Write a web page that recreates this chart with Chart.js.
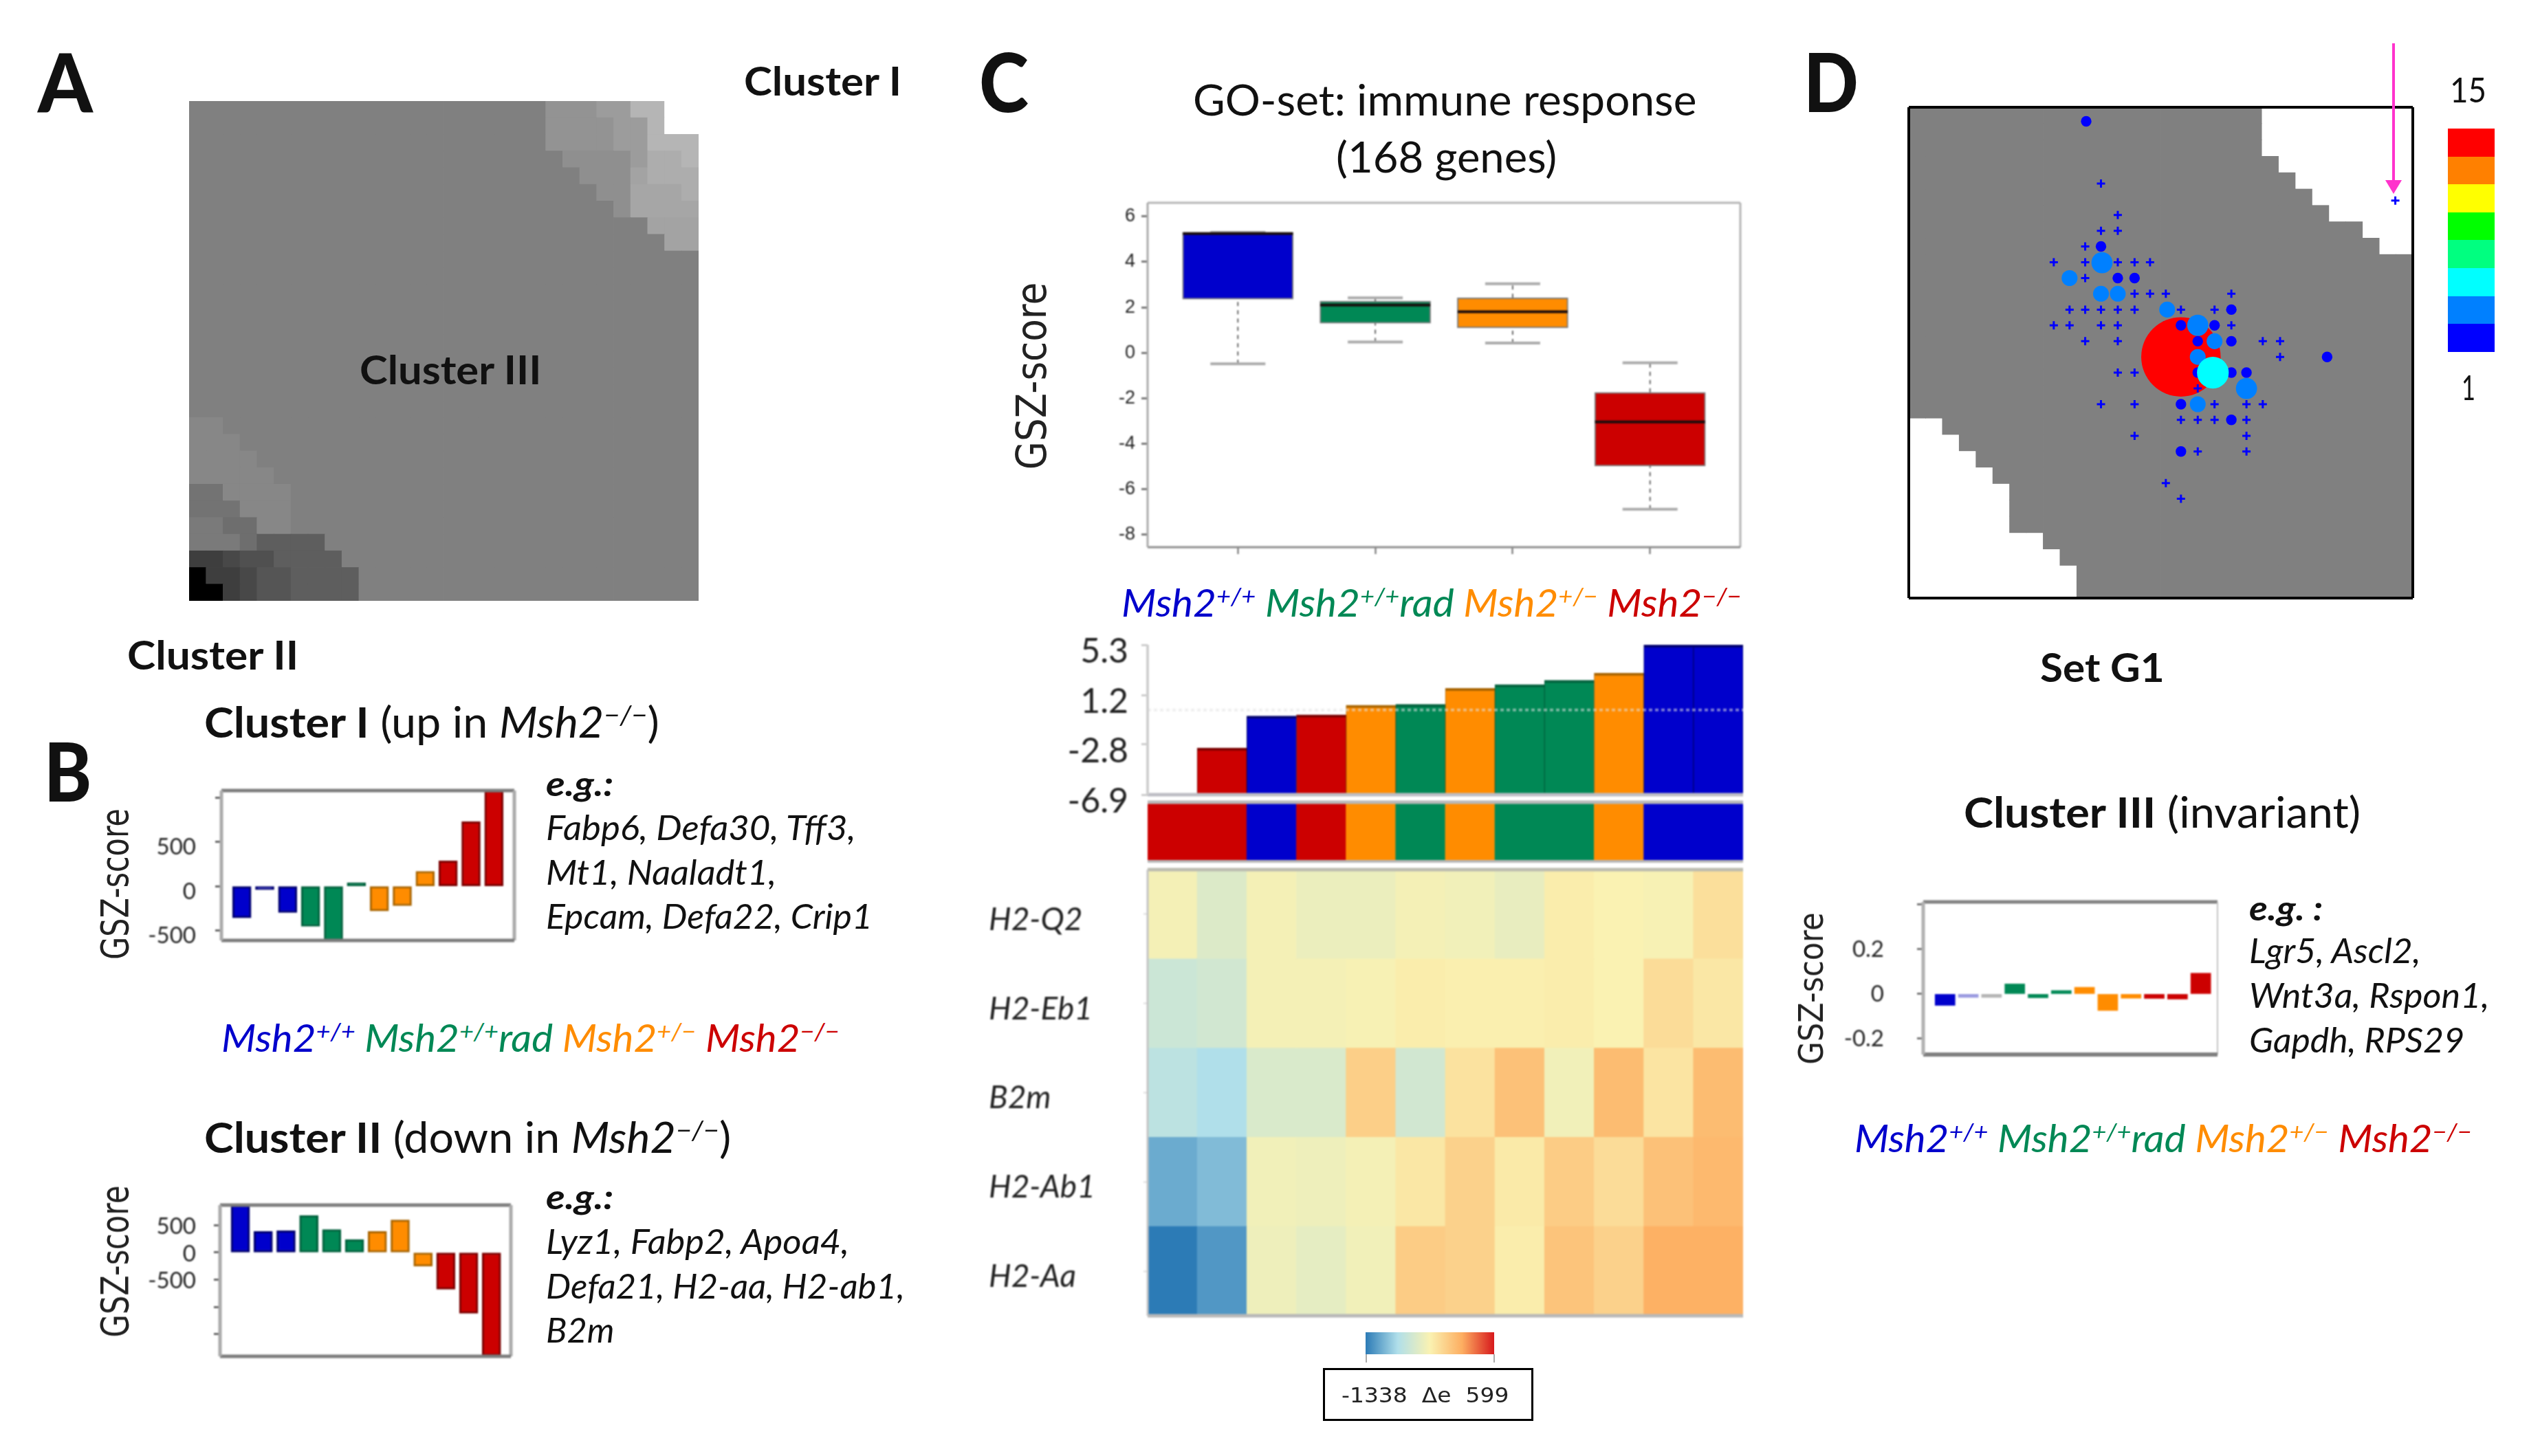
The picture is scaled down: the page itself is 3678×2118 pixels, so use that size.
<!DOCTYPE html>
<html>
<head>
<meta charset="utf-8">
<title>Msh2 SOM portraits</title>
<script src="https://cdn.jsdelivr.net/npm/chart.js@4"></script>
<style>
  html, body { margin: 0; background: #fff; }
  #page { position: relative; width: 3678px; height: 2118px; overflow: hidden; font-family: Lato, sans-serif; color: #111; }
  #page canvas { position: absolute; }
  .soft { filter: blur(0.9px); }
  .t { position: absolute; white-space: nowrap; line-height: 1.2; transform-origin: 0 50%; }
  .t sup { font-size: 0.62em; line-height: 0; vertical-align: 0.5em; }
  .r { position: absolute; white-space: nowrap; line-height: 1; font-family: "DejaVu Sans", sans-serif; color: #222; }
  .swatch { position: absolute; }
</style>
</head>
<body>
<div id="page"></div>
<script>
// sample groups
const WT = 'wt', RAD = 'rad', HET = 'het', KO = 'ko';
const groupFill = { wt: '#0000cc', rad: '#008855', het: '#ff8c00', ko: '#cc0000' };
const groupEdge = { wt: '#00006e', rad: '#00603c', het: '#a86400', ko: '#7a0000' };

// panel A: SOM portrait, 30x30 metagenes, each row as count,level,count,level...
const somRuns = [
  [21,128, 3,147, 2,156, 2,181, 2,255],
  [21,128, 4,147, 2,156, 1,181, 2,255],
  [21,128, 4,147, 2,156, 3,181],
  [22,128, 4,143, 1,156, 2,173, 1,181],
  [23,128, 3,143, 1,163, 3,173],
  [24,128, 2,143, 3,166, 1,173],
  [25,128, 1,143, 4,166],
  [27,128, 3,163],
  [28,128, 2,163],
  [30,128], [30,128], [30,128], [30,128], [30,128],
  [30,128], [30,128], [30,128], [30,128], [30,128],
  [2,135, 28,128],
  [3,135, 27,128],
  [4,135, 26,128],
  [5,135, 25,128],
  [2,115, 4,135, 24,128],
  [3,115, 3,135, 24,128],
  [2,122, 2,110, 2,135, 24,128],
  [3,122, 1,110, 4,94, 22,128],
  [2,62, 1,72, 2,80, 4,94, 21,128],
  [1,0, 2,62, 1,72, 2,85, 4,94, 20,128],
  [2,0, 1,62, 1,72, 2,85, 4,94, 20,128]
];
const SOM_BACKGROUND = 128;

// panel B: cluster profiles
const profileGroups = [WT, WT, WT, RAD, RAD, RAD, HET, HET, HET, KO, KO, KO];
const clusterIScores = [-357, -39, -298, -453, -612, 39, -280, -220, 168, 285, 730, 1080];
const clusterIIScores = [873, 388, 400, 683, 422, 240, 388, 600, -253, -675, -1118, -1900];
const clusterITicks = [1000, 500, 0, -500];
const clusterITickLabels = ['', '500', '0', '-500'];
const clusterIITicks = [500, 0, -500, -1000, -1500];
const clusterIITickLabels = ['500', '0', '-500', '', ''];

// panel C: boxplot
const boxLow = [-0.48, 0.48, 0.43, -6.88];
const boxQ1 = [2.36, 1.3, 1.1, -4.98];
const boxMedian = [5.25, 2.1, 1.81, -3.04];
const boxQ3 = [5.3, 2.27, 2.42, -1.74];
const boxHigh = [5.3, 2.42, 3.04, -0.44];
const boxGroups = [WT, RAD, HET, KO];
const boxTicks = [6, 4, 2, 0, -2, -4, -6, -8];

// panel C: per sample GSZ bars, sample strip and heatmap
const sampleGroups = [KO, KO, WT, KO, HET, RAD, HET, RAD, RAD, HET, WT, WT];
const sampleScores = [-6.9, -3.1, -0.49, -0.4, 0.39, 0.45, 1.75, 2.07, 2.41, 3.0, 5.3, 5.3];
const sampleTicks = [5.3, 1.2, -2.8, -6.9];
const geneNames = ['H2-Q2', 'H2-Eb1', 'B2m', 'H2-Ab1', 'H2-Aa'];
const geneH2Q2 = [-408, -563, -408, -466, -466, -408, -428, -486, -331, -370, -389, -234];
const geneH2Eb1 = [-679, -641, -408, -408, -389, -331, -350, -350, -331, -370, -215, -292];
const geneB2m = [-776, -854, -583, -583, -118, -641, -253, -21, -428, 18, -273, 18];
const geneH2Ab1 = [-1106, -1028, -428, -447, -408, -292, -137, -311, -98, -215, -21, 37];
const geneH2Aa = [-1338, -1202, -447, -505, -428, -98, -137, -331, -40, -137, 95, 95];
const deltaMin = -1338, deltaMax = 599;
const heatStops = ['#2c7bb6', '#b0dfea', '#faf2b2', '#fdae61', '#d7191c'];

// panel D: set G1 genes per metagene
const g1X = [15.2, 16.2,
  11.44, 12.44, 11.44, 12.44, 10.5, 11.44,
  8.63, 10.5, 11.5, 12.44, 13.44, 14.36,
  9.57, 10.5, 12.44, 13.44,
  11.44, 12.44, 13.44, 14.36, 15.3, 19.2,
  9.57, 10.5, 11.44, 12.44, 13.44, 15.38, 16.2, 18.2, 19.2,
  8.63, 9.57, 11.44, 12.44, 16.2, 17.2, 18.2, 19.2,
  10.5, 12.44, 17.2, 18.2, 19.2, 21.07, 22.1,
  17.2, 22.1, 24.9,
  12.44, 13.44, 17.2, 19.2, 20.1, 18.1,
  17.2, 20.1,
  11.44, 13.44, 16.2, 17.2, 18.2, 20.1, 21.07,
  16.2, 17.2, 18.2, 19.2, 20.1,
  13.44, 20.1,
  16.2, 17.2, 20.1,
  15.3, 16.2, 10.56, 28.96];
const g1Y = [13.33, 15.26,
  4.66, 6.59, 7.55, 7.55, 8.51, 8.51,
  9.48, 9.48, 9.5, 9.48, 9.48, 9.48,
  10.44, 10.44, 10.44, 10.44,
  11.4, 11.4, 11.4, 11.4, 11.4, 11.4,
  12.37, 12.37, 12.37, 12.37, 12.37, 12.37, 12.37, 12.37, 12.37,
  13.33, 13.33, 13.33, 13.33, 13.33, 13.33, 13.33, 13.33,
  14.3, 14.3, 14.3, 14.3, 14.3, 14.3, 14.3,
  15.26, 15.26, 15.26,
  16.22, 16.22, 16.22, 16.22, 16.22, 16.22,
  17.19, 17.19,
  18.15, 18.15, 18.15, 18.15, 18.15, 18.15, 18.15,
  19.11, 19.11, 19.11, 19.11, 19.11,
  20.08, 20.08,
  21.04, 21.04, 21.04,
  22.97, 23.93, 0.86, 5.7];
const g1Count = [1, 15,
  1, 1, 1, 1, 1, 2,
  1, 1, 4, 1, 1, 1,
  3, 1, 2, 2,
  3, 3, 1, 1, 1, 1,
  1, 1, 1, 1, 1, 3, 1, 1, 2,
  1, 1, 1, 1, 2, 4, 2, 1,
  1, 1, 2, 3, 2, 1, 1,
  3, 1, 2,
  1, 1, 2, 2, 2, 6,
  1, 4,
  1, 1, 2, 3, 1, 1, 1,
  1, 1, 1, 2, 1,
  1, 1,
  2, 1, 1,
  1, 1, 2, 1];
const countBands = ['#0000ff', '#0080ff', '#00ffff', '#00ff80', '#00ff00', '#ffff00', '#ff8000', '#ff0000'];

// panel D: cluster III profile
const clusterIIIScores = [-0.051, -0.003, -0.003, 0.045, -0.017, 0.01, 0.03, -0.074, -0.019, -0.02, -0.023, 0.093];
const clusterIIITicks = [0.4, 0.2, 0, -0.2];
const clusterIIITickLabels = ['', '0.2', '0', '-0.2'];

const page = document.getElementById('page');

Chart.defaults.animation = false;
Chart.defaults.responsive = false;
Chart.defaults.devicePixelRatio = 1;
Chart.defaults.plugins.legend.display = false;
Chart.defaults.plugins.tooltip.enabled = false;
Chart.defaults.font.family = 'Lato';

// draws the plot frame, each side has its own colour and width
Chart.register({
  id: 'frame',
  afterDatasetsDraw(chart, args, opts) {
    const a = chart.chartArea, ctx = chart.ctx;
    const lines = {
      top: [a.left, a.top, a.right, a.top],
      right: [a.right, a.top, a.right, a.bottom],
      bottom: [a.left, a.bottom, a.right, a.bottom],
      left: [a.left, a.top, a.left, a.bottom]
    };
    ctx.save();
    Object.keys(lines).forEach(side => {
      if (!opts[side]) return;
      const l = lines[side];
      ctx.strokeStyle = opts[side][0];
      ctx.lineWidth = opts[side][1];
      ctx.beginPath();
      ctx.moveTo(l[0], l[1]);
      ctx.lineTo(l[2], l[3]);
      ctx.stroke();
    });
    ctx.restore();
  }
});

function addChart(box, config, opt = {}) {
  const pad = 100; // roomy, tick label margins eat into this
  const labelW = opt.labelW || 0;
  const bottomH = opt.bottomH || 0;
  const leftPad = labelW ? 0 : pad;
  const canvas = document.createElement('canvas');
  canvas.width = labelW + leftPad + box.w + pad;
  canvas.height = pad + box.h + bottomH + pad;
  canvas.style.left = (box.x - labelW - leftPad) + 'px';
  canvas.style.top = (box.y - pad) + 'px';
  if (opt.soft) canvas.className = 'soft';
  page.appendChild(canvas);
  config.options.layout = { autoPadding: false, padding: { left: leftPad, top: pad, right: pad, bottom: pad } };
  return new Chart(canvas, config);
}

function hiddenX(min, max) {
  return { type: 'linear', display: false, min, max, offset: false, grid: { offset: false } };
}

function hiddenY(min, max, reverse) {
  return { type: 'linear', display: false, min, max, reverse: !!reverse };
}

function tickedY(min, max, values, labels, width, font, padding, tickColor, labelOffset = 0) {
  return {
    type: 'linear', min, max,
    border: { display: false },
    grid: { drawOnChartArea: false, tickLength: 9, tickWidth: 3, tickColor },
    ticks: { autoSkip: false, padding, labelOffset, font, color: '#222', callback: (v, i) => labels[i] },
    afterBuildTicks(scale) { scale.ticks = values.map(value => ({ value })); },
    afterFit(scale) { scale.width = width; }
  };
}

function hex(c) {
  return [1, 3, 5].map(i => parseInt(c.substr(i, 2), 16));
}

function heatColor(v) {
  const t = (v - deltaMin) / (deltaMax - deltaMin) * (heatStops.length - 1);
  const i = Math.min(Math.floor(t), heatStops.length - 2);
  const a = hex(heatStops[i]), b = hex(heatStops[i + 1]);
  const c = a.map((p, k) => Math.round(p + (b[k] - p) * (t - i)));
  return 'rgb(' + c.join(',') + ')';
}

// text helpers, width makes the glyphs fit the reference width
function addText(html, x, cy, size, width, css = '') {
  const el = document.createElement('div');
  el.className = 't';
  el.style.cssText = 'left:' + (x - 3) + 'px;top:' + (cy - 3) + 'px;font-size:' + size + 'px;' + css;
  el.innerHTML = html;
  page.appendChild(el);
  const w = el.offsetWidth;
  el.style.transform = 'translateY(-50%) scaleX(' + (width / w) + ')';
  return el;
}

function addRotated(text, cx, cy, size, length) {
  const el = document.createElement('div');
  el.className = 'r';
  el.style.cssText = 'left:' + cx + 'px;top:' + cy + 'px;font-size:' + size + 'px;';
  el.textContent = text;
  page.appendChild(el);
  const w = el.offsetWidth;
  el.style.transform = 'translate(-50%,-50%) rotate(-90deg) scaleX(' + (length / w) + ')';
}

const LEGEND = '<i><span style="color:#0000cc">Msh2<sup>+/+</sup></span> ' +
  '<span style="color:#008855">Msh2<sup>+/+</sup>rad</span> ' +
  '<span style="color:#ff8c00">Msh2<sup>+/\u2212</sup></span> ' +
  '<span style="color:#cc0000">Msh2<sup>\u2212/\u2212</sup></span></i>';
const KO_ITALIC = '<i>Msh2<sup>\u2212/\u2212</sup></i>';
const PANEL_LETTER = 'font-weight:900';

// ---- panel A ----
const somCells = [], somColors = [];
const somLevels = somRuns.map(run => {
  const row = [];
  for (let i = 0; i < run.length; i += 2) {
    for (let n = 0; n < run[i]; n++) row.push(run[i + 1]);
  }
  return row;
});
somLevels.forEach((row, r) => row.forEach((level, c) => {
  somCells.push({ x: c + 0.5, y: [r, r + 1] });
  somColors.push('rgb(' + level + ',' + level + ',' + level + ')');
}));

const boxA = { x: 275, y: 147, w: 741, h: 727 };
addChart(boxA, {
  type: 'bar',
  data: { datasets: [{ data: somCells, backgroundColor: somColors, barThickness: boxA.w / 30, inflateAmount: 0.4, borderWidth: 0 }] },
  options: { scales: { x: hiddenX(0, 30), y: hiddenY(0, 30, true) } }
});

addText('A', 58, 121, 118, 80, PANEL_LETTER);
addText('Cluster I', 1085, 120, 58, 229, 'font-weight:700');
addText('Cluster III', 526, 540, 58, 264, 'font-weight:700');
addText('Cluster II', 188, 955, 58, 249, 'font-weight:700');

// ---- panel B ----
function profileChart(box, scores, colors, groups, xMin, xMax, thick, yMin, yMax, values, labels, width, padding, frame, labelOffset) {
  addChart(box, {
    type: 'bar',
    data: {
      datasets: [{
        data: scores.map((v, i) => ({ x: i, y: v })),
        backgroundColor: colors,
        borderColor: groups.map(g => groupEdge[g]),
        borderWidth: 3,
        borderSkipped: false,
        barThickness: thick,
        minBarLength: 4
      }]
    },
    options: {
      scales: {
        x: hiddenX(xMin, xMax),
        y: tickedY(yMin, yMax, values, labels, width, { family: 'Lato', size: 33 }, padding, '#666', labelOffset)
      },
      plugins: { frame }
    }
  }, { labelW: width, soft: true });
}

const softFrame = { top: ['#7c7c7c', 5], bottom: ['#7c7c7c', 5], left: ['#aaaaaa', 5], right: ['#aaaaaa', 5] };
const profileColors = profileGroups.map(g => groupFill[g]);
profileChart({ x: 322, y: 1150, w: 426, h: 218 }, clusterIScores, profileColors, profileGroups, -0.89, 11.89, 27,
  -612, 1080, clusterITicks, clusterITickLabels, 120, 28, softFrame, 8);
profileChart({ x: 320, y: 1753, w: 423, h: 220 }, clusterIIScores, profileColors, profileGroups, -0.89, 11.85, 27,
  -1911, 873, clusterIITicks, clusterIITickLabels, 120, 26, softFrame, 2);

addText('B', 67, 1124, 118, 69, PANEL_LETTER);
addText('<b>Cluster I</b> (up in ' + KO_ITALIC + ')', 300, 1052, 62, 662);
addText('<b>Cluster II</b> (down in ' + KO_ITALIC + ')', 300, 1656, 62, 766);
addRotated('GSZ-score', 167, 1286, 56, 220);
addRotated('GSZ-score', 167, 1835, 56, 221);
addText('<b><i>e.g.:</i></b>', 797, 1142, 50, 98);
addText('<i>Fabp6, Defa30, Tff3,</i>', 797, 1206, 50, 450);
addText('<i>Mt1, Naaladt1,</i>', 797, 1271, 50, 335);
addText('<i>Epcam, Defa22, Crip1</i>', 797, 1335, 50, 475);
addText(LEGEND, 325, 1512, 56, 899);
addText('<b><i>e.g.:</i></b>', 797, 1743, 50, 98);
addText('<i>Lyz1, Fabp2, Apoa4,</i>', 797, 1808, 50, 441);
addText('<i>Defa21, H2-aa, H2-ab1,</i>', 797, 1873, 50, 522);
addText('<i>B2m</i>', 797, 1937, 50, 99);

// ---- panel C boxplot ----
const whiskerPoints = [];
boxGroups.forEach((g, i) => {
  whiskerPoints.push({ x: i, y: boxLow[i] }, { x: i, y: boxQ1[i] }, { x: i, y: null });
  whiskerPoints.push({ x: i, y: boxQ3[i] }, { x: i, y: boxHigh[i] }, { x: i, y: null });
});
const capPoints = [];
boxGroups.forEach((g, i) => capPoints.push({ x: i, y: boxLow[i] }, { x: i, y: boxHigh[i] }));

addChart({ x: 1669, y: 295, w: 862, h: 501 }, {
  type: 'bar',
  data: {
    datasets: [
      { type: 'line', data: whiskerPoints, order: 4, borderColor: '#666', borderWidth: 2, borderDash: [6, 6], pointRadius: 0, spanGaps: false },
      { type: 'scatter', data: capPoints, order: 3, pointStyle: 'line', pointRadius: 40, pointBorderColor: '#aaa', pointBorderWidth: 4 },
      {
        data: boxGroups.map((g, i) => ({ x: i, y: [boxQ1[i], boxQ3[i]] })),
        order: 2,
        backgroundColor: boxGroups.map(g => groupFill[g]),
        borderColor: '#777',
        borderWidth: 2,
        borderSkipped: false,
        barThickness: 161
      },
      { type: 'scatter', data: boxMedian.map((v, i) => ({ x: i, y: v })), order: 1, pointStyle: 'line', pointRadius: 80, pointBorderColor: '#1a0d0d', pointBorderWidth: 4 }
    ]
  },
  options: {
    scales: {
      x: {
        type: 'linear', min: -0.657, max: 3.657, offset: false,
        border: { display: false },
        grid: { offset: false, drawOnChartArea: false, tickLength: 10, tickWidth: 2, tickColor: '#666' },
        ticks: { display: false },
        afterBuildTicks(scale) { scale.ticks = boxGroups.map((g, i) => ({ value: i })); },
        afterFit(scale) { scale.height = 14; }
      },
      y: tickedY(-8.55, 6.6, boxTicks, boxTicks.map(String), 110, { family: 'Liberation Sans', size: 27 }, 9, '#777')
    },
    plugins: { frame: { top: ['#b4b4b4', 3], right: ['#b4b4b4', 3], left: ['#aaaaaa', 3], bottom: ['#8c8c8c', 3] } }
  }
}, { labelW: 110, bottomH: 14, soft: true });

addText('C', 1427, 121, 118, 72, PANEL_LETTER);
addText('GO-set: immune response', 1738, 147, 62, 733);
addText('(168 genes)', 1946, 230, 62, 321);
addRotated('GSZ-score', 1500, 547, 60, 273);
addText(LEGEND, 1634, 879, 56, 902);

// ---- panel C sample bars ----
const sampleBox = { x: 1669, y: 938, w: 866, h: 218 };
const sampleThick = sampleBox.w / sampleGroups.length;
addChart(sampleBox, {
  type: 'bar',
  data: {
    datasets: [
      { type: 'line', data: [{ x: -0.5, y: 0 }, { x: 11.5, y: 0 }], order: 1, borderColor: 'rgba(225,225,225,0.55)', borderWidth: 4, borderDash: [5, 4], pointRadius: 0 },
      {
        data: sampleScores.map((v, i) => ({ x: i, y: v })),
        order: 2,
        base: -6.9,
        backgroundColor: sampleGroups.map(g => groupFill[g]),
        borderColor: sampleGroups.map(g => groupEdge[g]),
        borderWidth: { top: 4, left: 1, right: 1, bottom: 0 },
        borderSkipped: false,
        barThickness: sampleThick
      }
    ]
  },
  options: {
    scales: {
      x: hiddenX(-0.5, 11.5),
      y: tickedY(-6.9, 5.3, sampleTicks, sampleTicks.map(v => v.toFixed(1)), 231, { family: 'Lato', size: 50 }, 19, '#ccc', 10)
    },
    plugins: { frame: { left: ['#cfcfcf', 4], bottom: ['#bdbdc4', 5] } }
  }
}, { labelW: 231, soft: true });

// ---- panel C sample strip ----
addChart({ x: 1669, y: 1167, w: 866, h: 86 }, {
  type: 'bar',
  data: {
    datasets: [{
      data: sampleGroups.map((g, i) => ({ x: i, y: [0, 1] })),
      backgroundColor: sampleGroups.map(g => groupFill[g]),
      borderWidth: 0,
      barThickness: sampleThick,
      inflateAmount: 0.4
    }]
  },
  options: {
    scales: { x: hiddenX(-0.5, 11.5), y: hiddenY(0, 1) },
    plugins: { frame: { top: ['#b8b8b8', 5], bottom: ['#b8b8b8', 4] } }
  }
}, { soft: true });

// ---- panel C heatmap ----
const geneRows = [geneH2Q2, geneH2Eb1, geneB2m, geneH2Ab1, geneH2Aa];
const heatCells = [], heatColors = [];
geneRows.forEach((row, r) => row.forEach((v, c) => {
  heatCells.push({ x: c, y: [r, r + 1] });
  heatColors.push(heatColor(v));
}));
addChart({ x: 1669, y: 1265, w: 866, h: 649 }, {
  type: 'bar',
  data: { datasets: [{ data: heatCells, backgroundColor: heatColors, borderWidth: 0, barThickness: sampleThick, inflateAmount: 0.4 }] },
  options: {
    scales: {
      x: hiddenX(-0.5, 11.5),
      y: {
        type: 'linear', min: 0, max: 5, reverse: true,
        border: { display: false },
        grid: { drawOnChartArea: false, tickLength: 6, tickWidth: 2, tickColor: '#ddd' },
        ticks: {
          autoSkip: false, crossAlign: 'far', color: '#222', labelOffset: 8,
          font: { family: 'Lato', size: 46, style: 'italic' },
          callback: (v, i) => geneNames[i]
        },
        afterBuildTicks(scale) { scale.ticks = geneNames.map((g, i) => ({ value: i + 0.5 })); },
        afterFit(scale) { scale.width = 231; }
      }
    },
    plugins: { frame: { top: ['#bcbcb0', 5], bottom: ['#b8b8b8', 5], left: ['#c4c4c4', 3] } }
  }
}, { labelW: 231, soft: true });

// heat colour key
const key = document.createElement('div');
key.className = 'swatch';
key.style.cssText = 'left:1986px;top:1938px;width:187px;height:32px;background:linear-gradient(to right,' + heatStops.join(',') + ');';
page.appendChild(key);
[1986, 2172].forEach(x => {
  const tick = document.createElement('div');
  tick.className = 'swatch';
  tick.style.cssText = 'left:' + x + 'px;top:1970px;width:2px;height:12px;background:#aaa;';
  page.appendChild(tick);
});
const keyBox = document.createElement('div');
keyBox.className = 'swatch';
keyBox.style.cssText = 'left:1924px;top:1990px;width:300px;height:71px;border:3px solid #000;';
page.appendChild(keyBox);
addText(deltaMin + '&nbsp;&nbsp;\u0394e&nbsp;&nbsp;' + deltaMax, 1954, 2033, 30, 244, 'font-family:"DejaVu Sans";color:#222');

// ---- panel D portrait ----
const maskCells = [];
somLevels.forEach((row, r) => row.forEach((level, c) => {
  if (level === SOM_BACKGROUND) maskCells.push({ x: c + 0.5, y: [r, r + 1] });
}));
const boxD = { x: 2776, y: 156, w: 733, h: 714 };
addChart(boxD, {
  type: 'bar',
  data: {
    datasets: [
      { data: maskCells, order: 2, backgroundColor: '#808080', borderWidth: 0, barThickness: boxD.w / 30, inflateAmount: 0.4 },
      {
        type: 'bubble',
        order: 1,
        data: g1X.map((x, i) => ({ x, y: g1Y[i], r: g1Count[i] === 1 ? 6 : g1Count[i] * 3.85 })),
        backgroundColor: ctx => countBands[Math.floor((g1Count[ctx.dataIndex] - 1) / 2)],
        borderColor: ctx => countBands[Math.floor((g1Count[ctx.dataIndex] - 1) / 2)],
        borderWidth: ctx => g1Count[ctx.dataIndex] === 1 ? 3 : 0,
        pointStyle: ctx => g1Count[ctx.dataIndex] === 1 ? 'cross' : 'circle'
      }
    ]
  },
  options: {
    scales: { x: hiddenX(0, 30), y: hiddenY(0, 30, true) },
    plugins: { frame: { top: ['#000', 4], right: ['#000', 4], bottom: ['#000', 4], left: ['#000', 4] } }
  }
});

// pointer to the lone metagene
page.insertAdjacentHTML('beforeend',
  '<svg style="position:absolute;left:3456px;top:55px" width="50" height="235">' +
  '<line x1="25" y1="8" x2="25" y2="215" stroke="#ff33cc" stroke-width="4"/>' +
  '<polygon points="13,207 37,207 25,227" fill="#ff33cc"/></svg>');

// count legend, top band is the highest count
countBands.slice().reverse().forEach((color, i) => {
  const band = document.createElement('div');
  band.className = 'swatch';
  band.style.cssText = 'left:3560px;top:' + (187 + i * 40.6) + 'px;width:68px;height:41px;background:' + color + ';';
  page.appendChild(band);
});
addText('15', 3566, 133, 50, 53);
addText('1', 3583, 566, 50, 20);
addText('D', 2626, 121, 118, 80, PANEL_LETTER);
addText('Set G1', 2970, 973, 58, 181, 'font-weight:700');

// ---- panel D cluster III profile ----
const clusterIIIColors = profileGroups.map(g => groupFill[g]);
clusterIIIColors[1] = '#9a9ae0';
clusterIIIColors[2] = '#b5b5b5';
addChart({ x: 2797, y: 1312, w: 428, h: 222 }, {
  type: 'bar',
  data: {
    datasets: [{
      data: clusterIIIScores.map((v, i) => ({ x: i, y: v })),
      backgroundColor: clusterIIIColors,
      borderWidth: 0,
      barThickness: 29,
      minBarLength: 5
    }]
  },
  options: {
    scales: {
      x: hiddenX(-0.94, 11.72),
      y: tickedY(-0.271, 0.412, clusterIIITicks, clusterIIITickLabels, 120, { family: 'Lato', size: 33 }, 48, '#777')
    },
    plugins: { frame: { top: ['#808080', 5], bottom: ['#808080', 6], left: ['#b0b0b0', 5], right: ['#c4c4c4', 2] } }
  }
}, { labelW: 120, soft: true });

addText('<b>Cluster III</b> (invariant)', 2859, 1183, 62, 577);
addRotated('GSZ-score', 2634, 1438, 50, 221);
addText('<b><i>e.g. :</i></b>', 3274, 1323, 50, 107);
addText('<i>Lgr5, Ascl2,</i>', 3274, 1385, 50, 249);
addText('<i>Wnt3a, Rspon1,</i>', 3274, 1450, 50, 349);
addText('<i>Gapdh, RPS29</i>', 3274, 1515, 50, 313);
addText(LEGEND, 2700, 1658, 56, 898);
</script>
</body>
</html>
